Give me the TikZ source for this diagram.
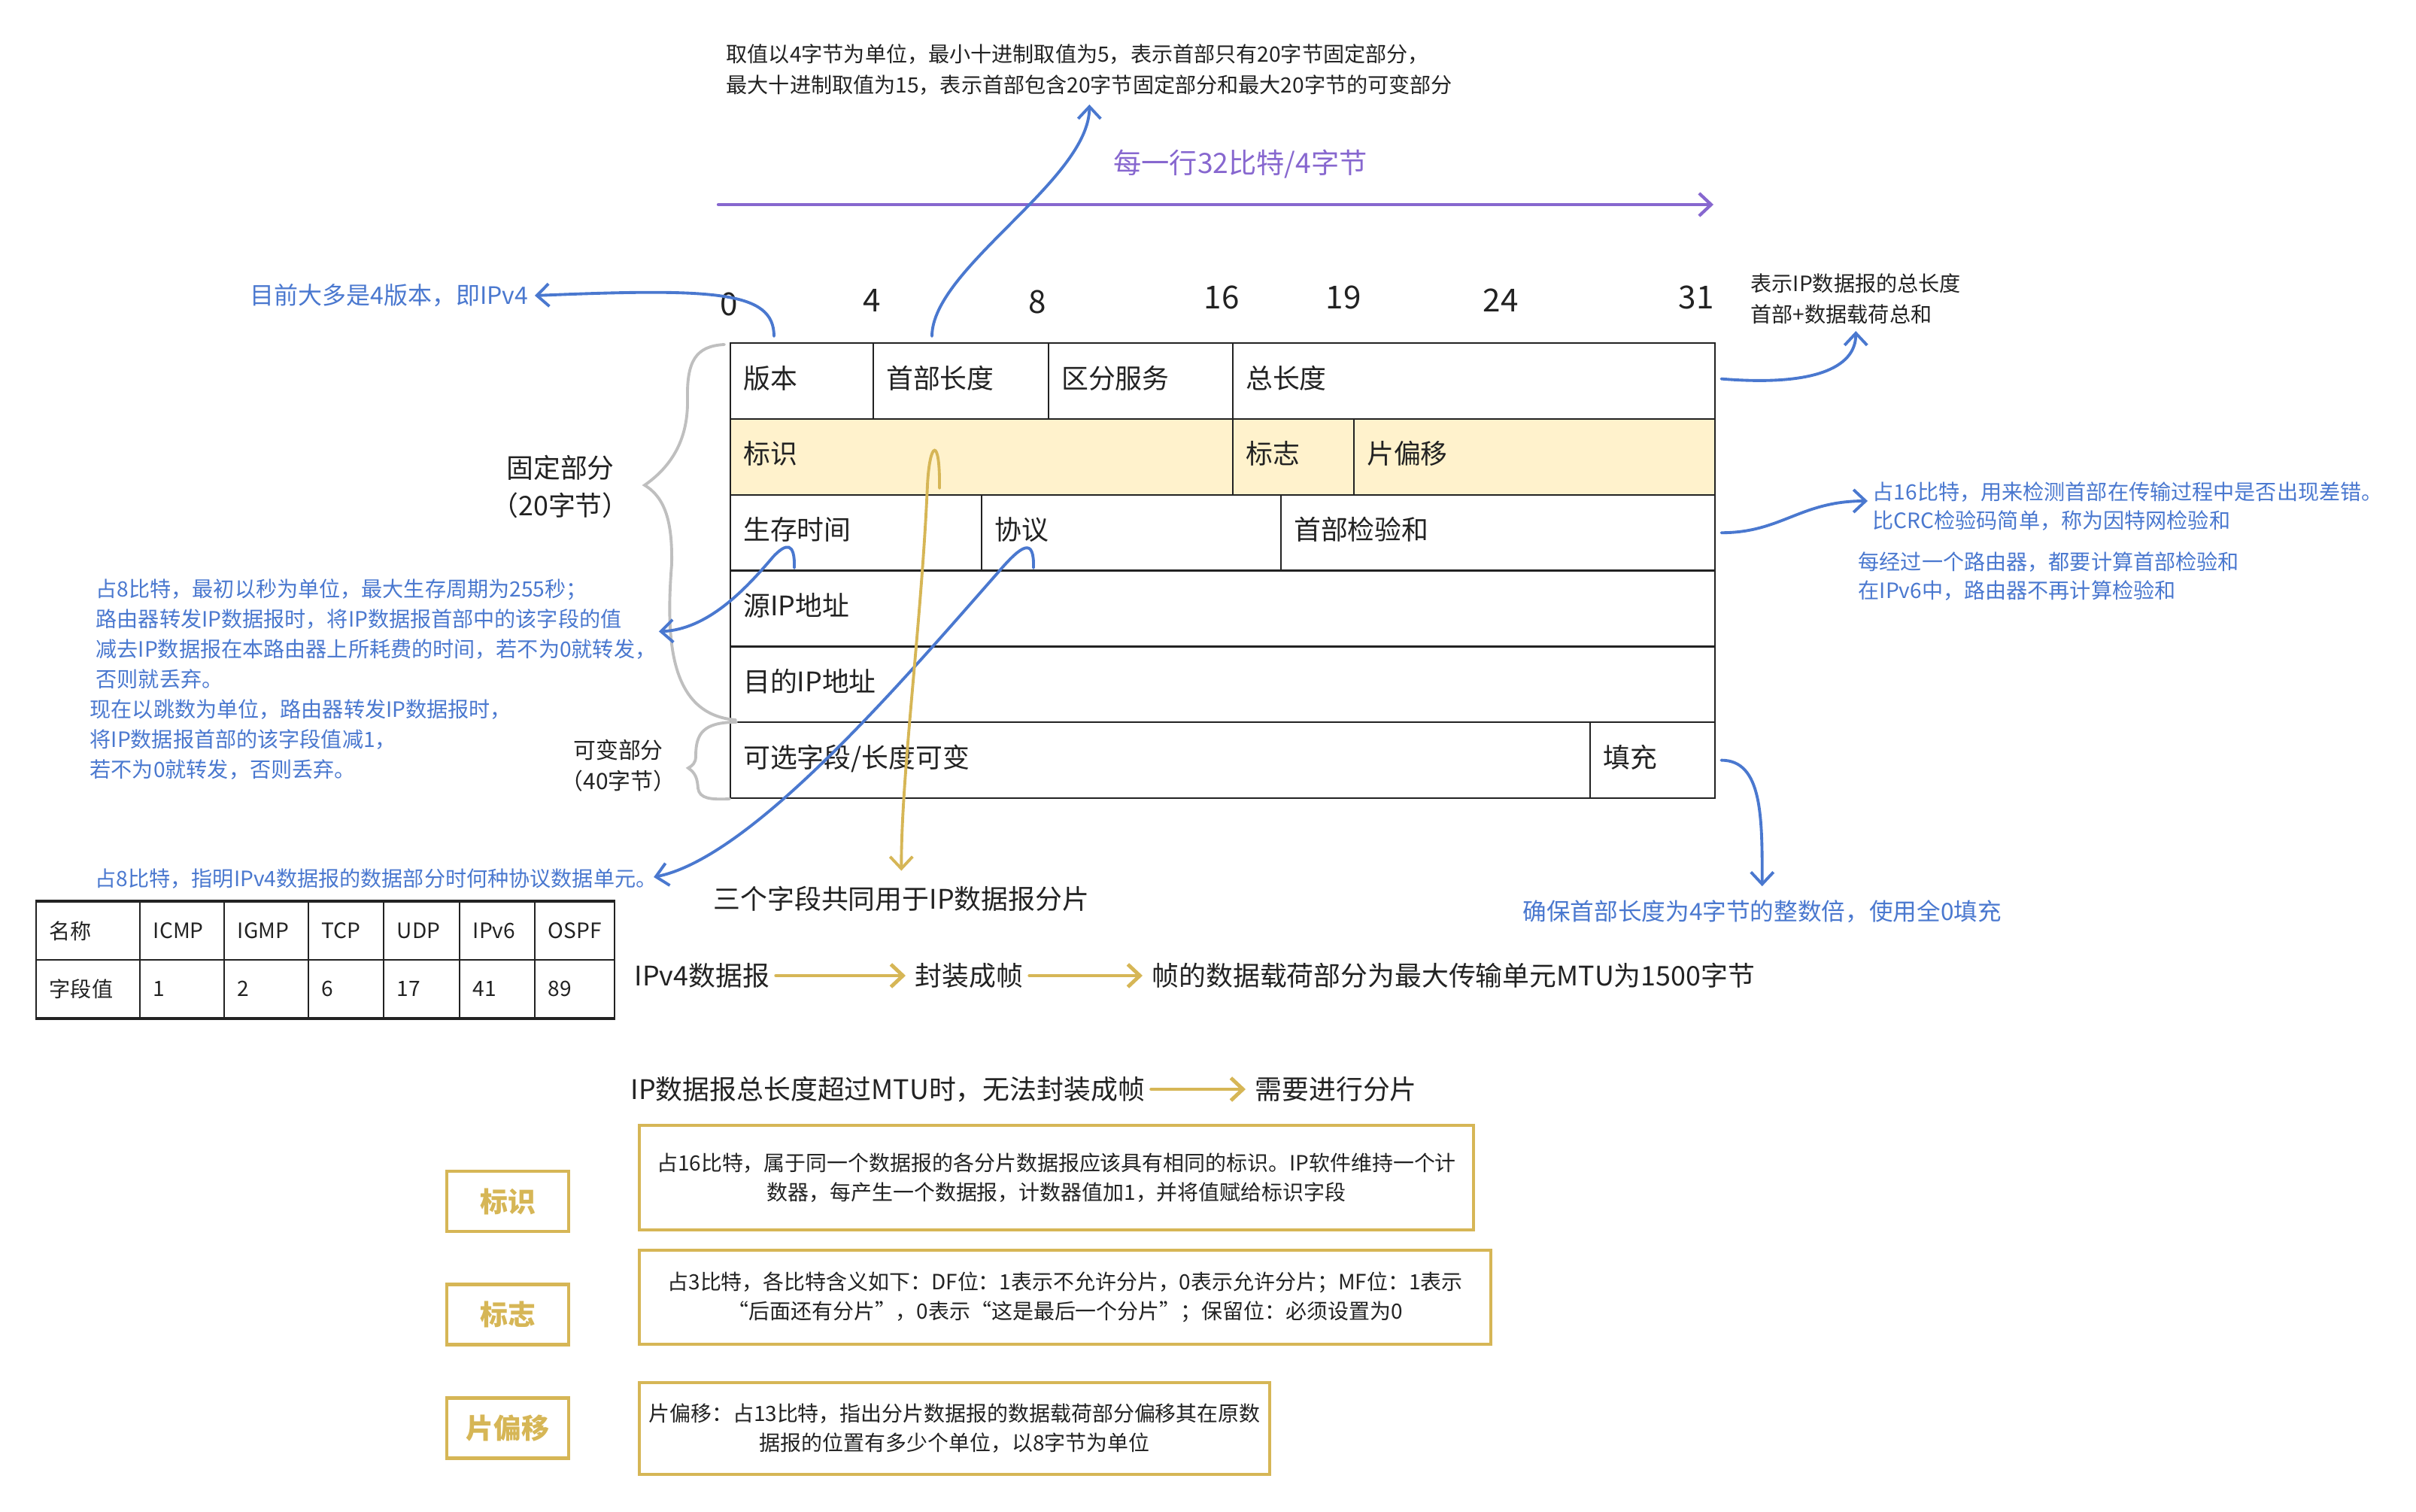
\documentclass[tikz,border=0pt]{standalone}
\usepackage{fontspec}
\setmainfont{Noto Sans CJK SC}
\usepackage{xcolor}
\usepackage{tikz}
\usetikzlibrary{arrows.meta,positioning}
\definecolor{noteblue}{HTML}{4A78CF}
\definecolor{rowpurple}{HTML}{8767CF}
\definecolor{fraggold}{HTML}{D6B656}
\definecolor{fragfill}{HTML}{FFF2CC}
\definecolor{bracegray}{HTML}{BFBFBF}
\definecolor{inkblack}{HTML}{222222}

\begin{document}
\begin{tikzpicture}[
    cell/.style={draw=inkblack, line width=0.7pt, anchor=north west, minimum height=1.008cm,
      inner xsep=0.17cm, inner ysep=0pt, align=left, text=inkblack,
      text height=0.32cm, text depth=0.13cm, font=\fontsize{10.2}{12}\selectfont},
    pcell/.style={draw=inkblack, line width=0.5pt, anchor=north west, minimum height=0.77cm,
      inner xsep=0.18cm, inner ysep=0pt, align=left, text=inkblack,
      font=\fontsize{8}{10}\selectfont},
    bit/.style={inner sep=0pt, text=inkblack, font=\fontsize{12}{14}\selectfont},
    note/.style={inner sep=0pt, align=left, text=noteblue, font=\fontsize{8}{11.4}\selectfont},
    plain/.style={inner sep=0pt, align=left, text=inkblack, font=\fontsize{8}{11.6}\selectfont},
    big/.style={inner sep=0pt, text=inkblack, font=\fontsize{10.2}{14}\selectfont},
    bluearrow/.style={draw=noteblue, line width=1.1pt, line cap=round,
      -{Straight Barb[length=1.6mm,width=3mm]}},
    goldarrow/.style={draw=fraggold, line width=1.4pt, line cap=round,
      shorten <=0.08cm, shorten >=0.12cm, -{Straight Barb[length=1.6mm,width=3mm]}},
    brace/.style={draw=bracegray, line width=1.1pt, line cap=round},
    tagbox/.style={draw=fraggold, line width=1.2pt, minimum width=1.62cm, minimum height=0.80cm,
      inner sep=0pt, text=fraggold, font=\fontsize{10.5}{12}\selectfont\bfseries},
    descbox/.style={draw=fraggold, line width=1.2pt, inner sep=0pt, align=center, text=inkblack,
      font=\fontsize{7.95}{11.1}\selectfont}
  ]
  \useasboundingbox (0,0) rectangle (32.12,-20.10);

  % 32 bit ruler
  \coordinate (rowstart) at (9.55,-2.72);
  \coordinate (rowend) at (22.78,-2.72);
  \draw[rowpurple, line width=1.2pt, line cap=round, -{Straight Barb[length=1.6mm,width=3mm]}]
    (rowstart) -- (rowend);
  \node[inner sep=0pt, text=rowpurple, font=\fontsize{10.6}{12}\selectfont] (rowlbl) at (16.49,-2.18) {每一行32比特/4字节};
  \foreach \b/\x/\y in {0/9.69/4.04, 4/11.59/3.99, 8/13.79/4.01, 16/16.24/3.95,
      19/17.86/3.95, 24/19.95/3.99, 31/22.55/3.95}
    \node[bit] (b\b) at (\x,-\y) {\b};

  % header cells
  \node[cell, text width=1.56cm] (ver) at (9.70,-4.550) {版本};
  \node[cell, text width=1.99cm] (hlen) at (11.60,-4.550) {首部长度};
  \node[cell, text width=2.11cm] (ds) at (13.93,-4.550) {区分服务};
  \node[cell, text width=6.07cm] (tlen) at (16.38,-4.550) {总长度};
  \node[cell, fill=fragfill, text width=6.34cm] (ident) at (9.70,-5.558) {标识};
  \node[cell, fill=fragfill, text width=1.27cm] (flag) at (16.38,-5.558) {标志};
  \node[cell, fill=fragfill, text width=4.46cm] (foff) at (17.99,-5.558) {片偏移};
  \node[cell, text width=3.00cm] (ttl) at (9.70,-6.566) {生存时间};
  \node[cell, text width=3.64cm] (proto) at (13.04,-6.566) {协议};
  \node[cell, text width=5.43cm] (cks) at (17.02,-6.566) {首部检验和};
  \node[cell, text width=12.75cm] (src) at (9.70,-7.574) {源IP地址};
  \node[cell, text width=12.75cm] (dst) at (9.70,-8.582) {目的IP地址};
  \node[cell, text width=11.09cm] (opt) at (9.70,-9.590) {可选字段/长度可变};
  \node[cell, text width=1.32cm] (pad) at (21.13,-9.590) {填充};

  % braces
  \draw[brace] (9.63,-4.58) .. controls (9.25,-4.60) and (9.13,-4.80) .. (9.14,-5.30)
    .. controls (9.15,-5.75) and (9.00,-6.15) .. (8.57,-6.45)
    .. controls (8.85,-6.62) and (8.94,-6.95) .. (8.93,-7.50)
    .. controls (8.85,-8.50) and (8.90,-9.50) .. (9.78,-9.57);
  \node[big, align=center] (fixlbl) at (7.45,-6.47) {固定部分\\（20字节）};
  \draw[brace] (9.79,-9.60) .. controls (9.35,-9.60) and (9.25,-9.75) .. (9.25,-10.05)
    .. controls (9.25,-10.15) and (9.20,-10.18) .. (9.15,-10.21)
    .. controls (9.25,-10.28) and (9.27,-10.35) .. (9.28,-10.48)
    .. controls (9.30,-10.62) and (9.45,-10.63) .. (9.70,-10.62);
  \node[inner sep=0pt, align=center, text=inkblack, font=\fontsize{8.5}{11.7}\selectfont] (varlbl) at (8.22,-10.18) {可变部分\\（40字节）};

  % notes
  \node[plain, anchor=west] (topnote) at (9.65,-0.925)
    {取值以4字节为单位，最小十进制取值为5，表示首部只有20字节固定部分，\\最大十进制取值为15，表示首部包含20字节固定部分和最大20字节的可变部分};
  \node[note, anchor=east, font=\fontsize{9.1}{11}\selectfont] (verlbl) at (7.03,-3.93) {目前大多是4版本，即IPv4};
  \node[plain, anchor=west] (tlenlbl) at (23.27,-3.97) {表示IP数据报的总长度\\首部+数据载荷总和};
  \node[note, anchor=west, font=\fontsize{8}{10.8}\selectfont] (ckslbl) at (24.89,-6.73)
    {占16比特，用来检测首部在传输过程中是否出现差错。\\比CRC检验码简单，称为因特网检验和};
  \node[note, anchor=west, font=\fontsize{8}{10.8}\selectfont] (cksv6) at (24.70,-7.66)
    {每经过一个路由器，都要计算首部检验和\\在IPv6中，路由器不再计算检验和};
  \node[note, anchor=west] (ttllbl) at (1.27,-8.425)
    {占8比特，最初以秒为单位，最大生存周期为255秒；\\路由器转发IP数据报时，将IP数据报首部中的该字段的值\\减去IP数据报在本路由器上所耗费的时间，若不为0就转发，\\否则就丢弃。};
  \node[note, anchor=west] (hoplbl) at (1.19,-9.83)
    {现在以跳数为单位，路由器转发IP数据报时，\\将IP数据报首部的该字段值减1，\\若不为0就转发，否则丢弃。};
  \node[note, anchor=west] (protolbl) at (1.26,-11.68) {占8比特，指明IPv4数据报的数据部分时何种协议数据单元。};
  \node[big, anchor=west] (pieces) at (9.48,-11.95) {三个字段共同用于IP数据报分片};
  \node[note, anchor=west, font=\fontsize{9}{11}\selectfont] (padlbl) at (20.24,-12.12) {确保首部长度为4字节的整数倍，使用全0填充};

  % blue arrows
  \draw[bluearrow] ([xshift=0.59cm,yshift=0.08cm]ver.north west)
    .. controls +(0,0.6) and +(2.4,0.1) .. ([xshift=0.08cm]verlbl.east);
  \draw[bluearrow] ([xshift=0.79cm,yshift=0.08cm]hlen.north west)
    .. controls +(0,0.9) and +(0,-1.0) .. ([yshift=-0.12cm]topnote.south);
  \draw[bluearrow] ([xshift=0.07cm,yshift=0.03cm]tlen.east)
    .. controls +(1.2,-0.1) and +(0,-0.5) .. ([yshift=-0.09cm]tlenlbl.south);
  \draw[bluearrow] ([xshift=0.07cm]cks.east)
    .. controls +(0.8,0) and +(-0.9,0) .. ([xshift=-0.06cm,yshift=0.07cm]ckslbl.west);
  \draw[bluearrow] ([xshift=0.07cm]pad.east)
    .. controls +(0.55,0) and +(0,0.9) .. ([yshift=0.18cm]padlbl.north);
  \draw[bluearrow] ([xshift=0.86cm,yshift=0.05cm]ttl.south west)
    .. controls (10.57,-7.20) and (10.45,-7.22) .. (10.28,-7.40)
    .. controls (9.90,-7.85) and (9.40,-8.37) .. ([xshift=0.03cm,yshift=0.03cm]ttllbl.east);
  \draw[bluearrow] ([xshift=0.70cm,yshift=0.05cm]proto.south west)
    .. controls (13.75,-7.15) and (13.60,-7.22) .. (13.26,-7.62)
    .. controls (12.00,-9.05) and (10.00,-11.40) .. ([xshift=-0.05cm,yshift=0.02cm]protolbl.east);

  % gold arrow to fragment note
  \draw[draw=fraggold, line width=1.1pt, line cap=round, -{Straight Barb[length=1.6mm,width=3mm]}]
    ([xshift=2.79cm,yshift=0.10cm]ident.south west)
    .. controls (12.50,-5.80) and (12.36,-5.85) .. (12.33,-6.45)
    .. controls (12.25,-8.30) and (11.98,-10.30) .. ([yshift=0.2cm]pieces.north);

  % protocol numbers
  \foreach \nm/\val/\x/\w [count=\i] in {名称/字段值/0.47/1.38, ICMP/1/1.85/1.12, IGMP/2/2.97/1.12,
      TCP/6/4.09/1.00, UDP/17/5.09/1.01, IPv6/41/6.10/1.00, OSPF/89/7.10/1.06} {
    \pgfmathsetmacro\tw{\w-0.36}
    \node[pcell, text width=\tw cm] (pn\i) at (\x,-11.98) {\nm};
    \node[pcell, text width=\tw cm] (pv\i) at (\x,-12.75) {\val};
  }
  \draw[line width=1pt, inkblack] (pn1.north west) -- (pn7.north east);
  \draw[line width=1pt, inkblack] (pv1.south west) -- (pv7.south east);

  % MTU flow
  \node[big, anchor=west] (dgram) at (8.43,-12.97) {IPv4数据报};
  \node[big, anchor=west] (encap) at (12.16,-12.97) {封装成帧};
  \node[big, anchor=west] (mtu) at (15.31,-12.97) {帧的数据载荷部分为最大传输单元MTU为1500字节};
  \draw[goldarrow] (dgram.east) -- (encap.west);
  \draw[goldarrow] (encap.east) -- (mtu.west);
  \node[big, anchor=west] (over) at (8.38,-14.48) {IP数据报总长度超过MTU时，无法封装成帧};
  \node[big, anchor=west] (need) at (16.68,-14.48) {需要进行分片};
  \draw[goldarrow] (over.east) -- (need.west);

  % field notes
  \node[tagbox] (tagid) at (6.75,-15.97) {标识};
  \node[tagbox] (tagflag) at (6.75,-17.475) {标志};
  \node[tagbox] (tagoff) at (6.75,-18.985) {片偏移};
  \node[descbox, minimum width=11.09cm, minimum height=1.39cm] (descid) at (14.045,-15.655)
    {占16比特，属于同一个数据报的各分片数据报应该具有相同的标识。IP软件维持一个计\\数器，每产生一个数据报，计数器值加1，并将值赋给标识字段};
  \node[descbox, minimum width=11.32cm, minimum height=1.25cm] (descflag) at (14.16,-17.245)
    {占3比特，各比特含义如下：DF位：1表示不允许分片，0表示允许分片；MF位：1表示\\“后面还有分片”，0表示“这是最后一个分片”；保留位：必须设置为0};
  \node[descbox, minimum width=8.38cm, minimum height=1.22cm] (descoff) at (12.69,-18.99)
    {片偏移：占13比特，指出分片数据报的数据载荷部分偏移其在原数\\据报的位置有多少个单位，以8字节为单位};
\end{tikzpicture}
\end{document}
